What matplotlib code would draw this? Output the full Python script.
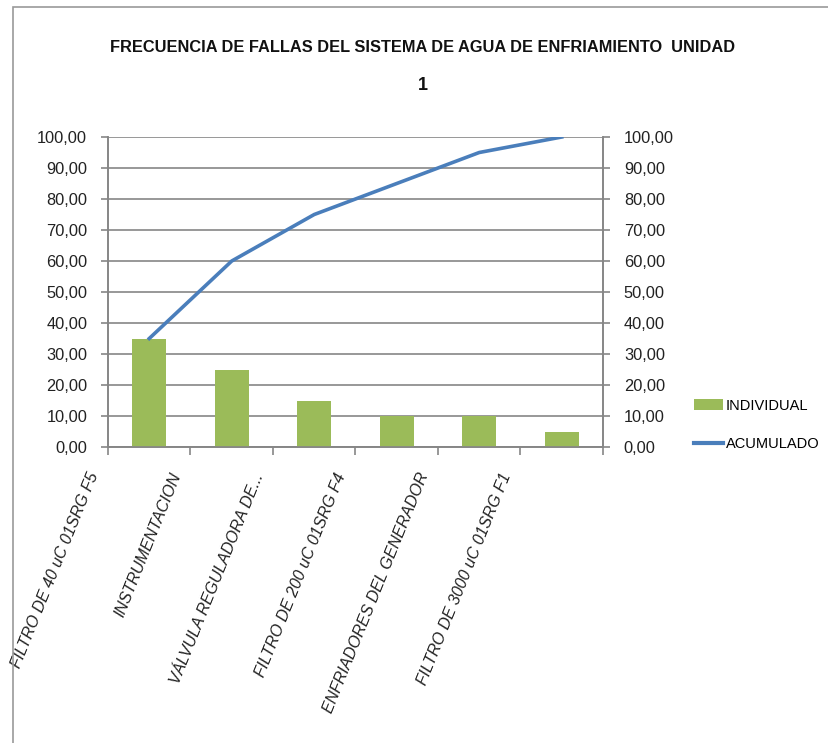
import matplotlib
matplotlib.use("Agg")
import matplotlib.pyplot as plt
import matplotlib.transforms as mtransforms
from matplotlib.patches import Rectangle, Patch
from matplotlib.lines import Line2D
import numpy as np

plt.rcParams['font.family'] = ['Liberation Sans', 'DejaVu Sans']

categorias = ['FILTRO DE 40 uC 01SRG F5', 'INSTRUMENTACION', 'VÁLVULA REGULADORA DE...',
              'FILTRO DE 200 uC 01SRG F4', 'ENFRIADORES DEL GENERADOR', 'FILTRO DE 3000 uC 01SRG F1']
individual = [35, 25, 15, 10, 10, 5]
acumulado = [35, 60, 75, 85, 95, 100]
yticks = list(range(0, 101, 10))

verde = '#9BBB59'
azul = '#4A7EBB'
gris = '#868686'

fig = plt.figure(figsize=(8.29, 7.43), dpi=100)
# marco exterior del grafico
fig.patches.append(Rectangle((13 / 829, -0.05), 1.2, 1 - 7 / 743 + 0.05, transform=fig.transFigure,
                             fill=False, edgecolor='#9a9a9a', linewidth=1.2))

ax = fig.add_axes([108 / 829, 1 - 447 / 743, (603 - 108) / 829, (447 - 137) / 743])
x = np.arange(len(categorias))
ax.bar(x, individual, width=0.41, color=verde, zorder=3)
ax.set_xlim(-0.5, len(categorias) - 0.5)
ax.set_ylim(0, 100)
ax.set_yticks(yticks)
ax.set_yticklabels([f'{v:.2f}'.replace('.', ',') for v in yticks], fontsize=11.8, color='#222222')
ax.grid(axis='y', color=gris, linewidth=1.2, zorder=0)
ax.tick_params(axis='y', length=5, width=1.2, color=gris, pad=10)

ax.set_xticks(x)
ax.set_xticklabels(categorias, rotation=68, ha='right', va='top', rotation_mode='anchor',
                   fontsize=11.5, style='italic', color='#222222')
ax.set_xticks(np.arange(-0.5, len(categorias)), minor=True)
ax.tick_params(axis='x', which='major', length=0, pad=17)
ax.tick_params(axis='x', which='minor', length=6, width=1.2, color=gris)
offset = mtransforms.ScaledTranslation(-62 / 100, 0, fig.dpi_scale_trans)
for lbl in ax.get_xticklabels():
    lbl.set_transform(lbl.get_transform() + offset)

for s in ['top']:
    ax.spines[s].set_visible(False)
for s in ['left', 'right', 'bottom']:
    ax.spines[s].set_color(gris)
    ax.spines[s].set_linewidth(1.2)

ax2 = ax.twinx()
ax2.plot(x, acumulado, color=azul, linewidth=2.6, zorder=4)
ax2.set_ylim(0, 100)
ax2.set_yticks(yticks)
ax2.set_yticklabels([f'{v:.2f}'.replace('.', ',') for v in yticks], fontsize=11.8, color='#222222')
ax2.tick_params(axis='y', length=5, width=1.2, color=gris, pad=10)
ax2.spines['top'].set_visible(False)
for s in ['left', 'right', 'bottom']:
    ax2.spines[s].set_color(gris)
    ax2.spines[s].set_linewidth(1.2)

fig.text(423 / 829, 1 - 48 / 743, 'FRECUENCIA DE FALLAS DEL SISTEMA DE AGUA DE ENFRIAMIENTO  UNIDAD',
         ha='center', va='center', fontsize=11.8, fontweight='bold', color='#111111')
fig.text(423 / 829, 1 - 86 / 743, '1', ha='center', va='center', fontsize=13,
         fontweight='bold', color='#111111')

handles = [Patch(facecolor=verde, edgecolor='none'), Line2D([0], [0], color=azul, linewidth=3)]
fig.legend(handles, ['INDIVIDUAL', 'ACUMULADO'], loc='center left',
           bbox_to_anchor=(687 / 829, 1 - 425 / 743), frameon=False, fontsize=10.5,
           handlelength=2.0, handletextpad=0.15, labelspacing=1.7, borderpad=0)

fig.savefig('out.png', dpi=100)
